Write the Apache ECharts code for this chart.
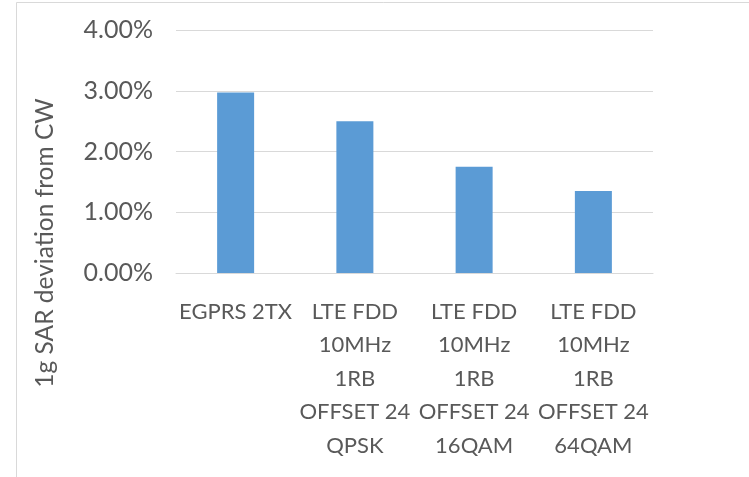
<!DOCTYPE html>
<html>
<head>
<meta charset="utf-8">
<script src="https://cdn.jsdelivr.net/npm/echarts@6/dist/echarts.min.js"></script>
<style>
html,body{margin:0;padding:0;background:#fff;}
#chart{width:749px;height:477px;}
</style>
</head>
<body>
<div id="chart"></div>
<script>
const categories = [
  "EGPRS 2TX",
  "LTE FDD\n10MHz\n1RB\nOFFSET 24\nQPSK",
  "LTE FDD\n10MHz\n1RB\nOFFSET 24\n16QAM",
  "LTE FDD\n10MHz\n1RB\nOFFSET 24\n64QAM"
];
const values = [2.97, 2.50, 1.75, 1.35];
const yTicks = [0, 1, 2, 3, 4];
const yAxisName = "1g SAR deviation from CW";

const chart = echarts.init(document.getElementById('chart'), null, {renderer: 'canvas'});
const font = 'Lato, "Open Sans", sans-serif';
chart.setOption({
  animation: false,
  backgroundColor: '#ffffff',
  graphic: [{
    type: 'polyline',
    shape: {points: [[16.5, 480], [16.5, 2.5], [760, 2.5]]},
    style: {stroke: '#d9d9d9', lineWidth: 1, fill: null},
    silent: true
  }, {
    type: 'text',
    x: 45,
    y: 243,
    rotation: Math.PI / 2,
    style: {
      text: yAxisName,
      fill: '#595959',
      font: '24.5px ' + font,
      align: 'center',
      verticalAlign: 'middle'
    },
    silent: true
  }],
  grid: {left: 176, right: 96, top: 30, bottom: 204},
  xAxis: {
    type: 'category',
    data: categories,
    axisLine: {show: true, lineStyle: {color: '#d9d9d9', width: 1}},
    axisTick: {show: false},
    axisLabel: {
      interval: 0,
      color: '#595959',
      fontFamily: font,
      fontSize: 22,
      lineHeight: 33.5,
      margin: 22
    }
  },
  yAxis: {
    type: 'value',
    min: yTicks[0],
    max: yTicks[yTicks.length - 1],
    interval: 1,
    axisLine: {show: false},
    axisTick: {show: false},
    splitLine: {lineStyle: {color: '#d9d9d9', width: 1}},
    axisLabel: {
      color: '#595959',
      fontFamily: font,
      fontSize: 25,
      margin: 23,
      formatter: v => v.toFixed(2) + '%'
    }
  },
  series: [{
    type: 'bar',
    data: values,
    barWidth: 37,
    itemStyle: {color: '#5b9bd5'}
  }]
});
</script>
</body>
</html>
